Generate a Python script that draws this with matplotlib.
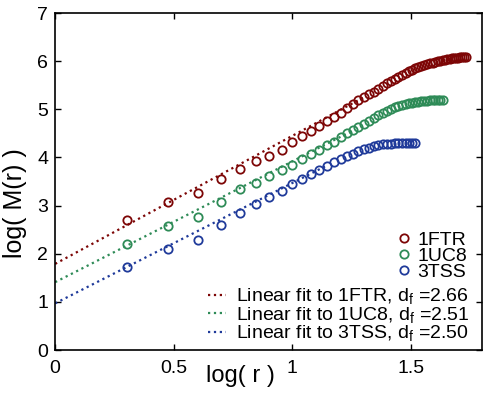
import numpy as np
import matplotlib
matplotlib.use('Agg')
from matplotlib import pyplot as plt

plt.rcParams['font.family'] = ['Liberation Sans', 'DejaVu Sans']
plt.rcParams['mathtext.fontset'] = 'custom'
plt.rcParams['mathtext.rm'] = 'Liberation Sans'
plt.rcParams['mathtext.it'] = 'Liberation Sans'

r_ftr = np.arange(2, 55)
y_ftr = [2.70, 3.07, 3.26, 3.55, 3.76, 3.93, 4.04, 4.16, 4.33, 4.45,
         4.55, 4.66, 4.75, 4.85, 4.93, 5.02, 5.12, 5.20, 5.25, 5.31,
         5.37, 5.42, 5.48, 5.54, 5.59, 5.64, 5.68, 5.72, 5.76, 5.79,
         5.82, 5.85, 5.88, 5.90, 5.92, 5.94, 5.96, 5.97, 5.99, 6.00,
         6.01, 6.02, 6.03, 6.04, 6.05, 6.06, 6.06, 6.07, 6.07, 6.08,
         6.08, 6.09, 6.09]

r_uc8 = np.arange(2, 44)
y_uc8 = [2.20, 2.58, 2.77, 3.07, 3.34, 3.48, 3.61, 3.73, 3.85, 3.96,
         4.07, 4.16, 4.25, 4.33, 4.42, 4.50, 4.57, 4.64, 4.70, 4.76,
         4.82, 4.88, 4.93, 4.97, 5.01, 5.04, 5.07, 5.09, 5.11, 5.13,
         5.14, 5.15, 5.16, 5.17, 5.18, 5.18, 5.19, 5.19, 5.20, 5.20,
         5.20, 5.20]

r_tss = np.arange(2, 34)
y_tss = [1.73, 2.09, 2.28, 2.60, 2.84, 3.03, 3.17, 3.31, 3.44, 3.55,
         3.65, 3.75, 3.83, 3.90, 3.97, 4.03, 4.08, 4.13, 4.17, 4.20,
         4.23, 4.25, 4.27, 4.28, 4.29, 4.30, 4.30, 4.30, 4.30, 4.30,
         4.30, 4.30]

names = ['1FTR', '1UC8', '3TSS']
slopes = [2.66, 2.51, 2.50]
intercepts = [1.79, 1.41, 0.97]
fit_end = [1.30, 1.25, 1.15]
colors = ['#7d0606', '#2e8b57', '#1f3a9a']

fig = plt.figure(figsize=(4.88, 4.08), dpi=100)
ax = fig.add_axes([0.113, 0.142, 0.875, 0.826])

series = [(r_ftr, y_ftr), (r_uc8, y_uc8), (r_tss, y_tss)]
pts = []
for (r, y), c, n in zip(series, colors, names):
    h, = ax.plot(np.log10(r), y, 'o', mfc='none', mec=c, mew=1.3, ms=6, label=n)
    pts.append(h)

fits = []
for s, b, e, c, n in zip(slopes, intercepts, fit_end, colors, names):
    xx = np.linspace(0, e, 50)
    h, = ax.plot(xx, b + s * xx, ':', color=c, lw=1.6,
                 label='Linear fit to %s, d$_f$ =%.2f' % (n, s))
    fits.append(h)

ax.set_xlim(0, 1.8)
ax.set_ylim(0, 7)
ax.set_xticks([0, 0.5, 1, 1.5])
ax.set_xticklabels(['0', '0.5', '1', '1.5'])
ax.set_yticks(range(8))
ax.tick_params(direction='in', top=True, right=True, labelsize=14, length=4, width=1)
ax.tick_params(axis='x', pad=7)
ax.tick_params(axis='y', pad=5)
for sp in ax.spines.values():
    sp.set_linewidth(1.2)
ax.set_xlabel('log( r )', fontsize=17)
ax.set_ylabel('log( M(r) )', fontsize=18)
ax.xaxis.set_label_coords(0.433, -0.045)
ax.yaxis.set_label_coords(-0.066, 0.436)

leg1 = ax.legend(handles=pts, loc='lower right', bbox_to_anchor=(0.965, 0.205),
                 frameon=False, fontsize=14, handlelength=0.6, handletextpad=0.4,
                 labelspacing=-0.08, borderpad=0, borderaxespad=0)
ax.add_artist(leg1)
ax.legend(handles=fits, loc='lower right', bbox_to_anchor=(0.97, 0.02),
          frameon=False, fontsize=14, handlelength=0.9, handletextpad=0.5,
          labelspacing=-0.08, borderpad=0, borderaxespad=0)

fig.savefig('out.png', dpi=100)
